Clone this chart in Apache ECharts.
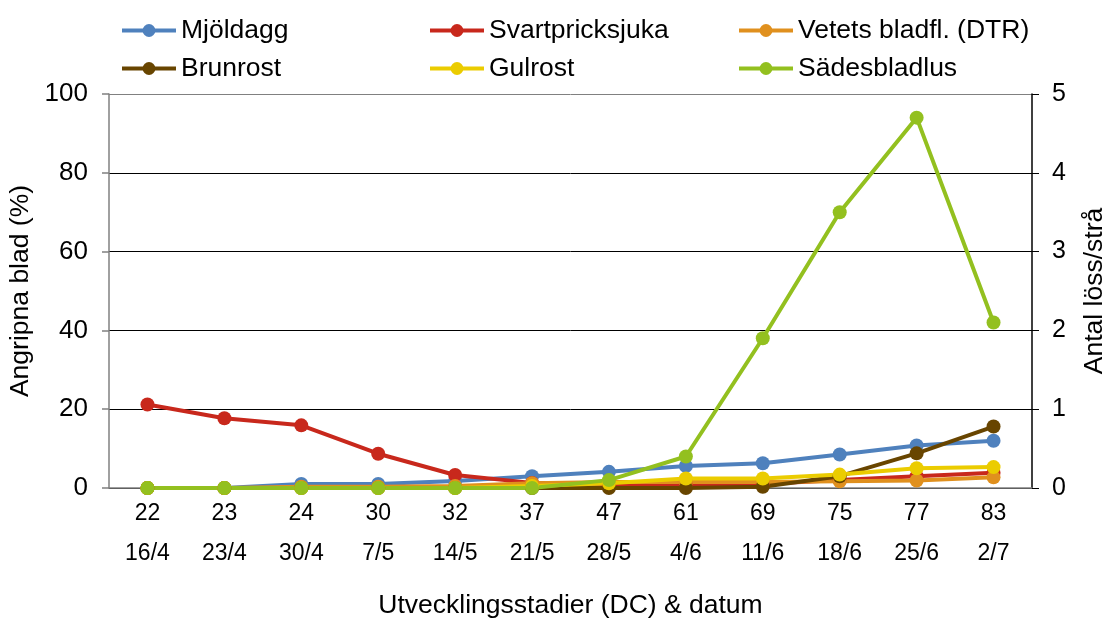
<!DOCTYPE html>
<html>
<head>
<meta charset="utf-8">
<style>
  html, body { margin: 0; padding: 0; background: #fff; }
  #chart { width: 1106px; height: 619px; }
</style>
<script src="https://cdn.jsdelivr.net/npm/echarts@6/dist/echarts.min.js"></script>
</head>
<body>
<div id="chart"></div>
<script>
// Development stage (DC) and date for each observation
const stages = ['22', '23', '24', '30', '32', '37', '47', '61', '69', '75', '77', '83'];
const dates = ['16/4', '23/4', '30/4', '7/5', '14/5', '21/5', '28/5', '4/6', '11/6', '18/6', '25/6', '2/7'];

// Share of infected leaves (%), left axis
const mjoldagg = [0, 0, 1, 1, 1.8, 3, 4.1, 5.6, 6.3, 8.5, 10.8, 12];
const svartpricksjuka = [21.2, 17.7, 15.9, 8.7, 3.3, 1.3, 1, 1, 1, 2, 3, 3.9];
const vetetsBladfl = [0, 0, 0.3, 0.3, 0.5, 1.2, 1.5, 1.5, 1.5, 1.7, 1.9, 2.7];
const brunrost = [0, 0, 0, 0, 0, 0, 0, 0, 0.3, 3, 8.8, 15.6];
const gulrost = [0, 0, 0, 0, 0, 0.5, 1.2, 2.4, 2.4, 3.4, 5, 5.3];

// Aphids per stem, right axis
const sadesbladlus = [0, 0, 0, 0, 0, 0, 0.1, 0.4, 1.9, 3.5, 4.7, 2.1];

// Axis ticks
const leftTicks = { min: 0, max: 100, interval: 20 };
const rightTicks = { min: 0, max: 5, interval: 1 };

const FONT = '"Liberation Sans", Arial, sans-serif';
const categories = stages.map((s, i) => s + '\n' + dates[i]);

const seriesDefs = [
  { name: 'Mjöldagg', data: mjoldagg, color: '#4F81BD', axis: 0 },
  { name: 'Svartpricksjuka', data: svartpricksjuka, color: '#C8281C', axis: 0 },
  { name: 'Vetets bladfl. (DTR)', data: vetetsBladfl, color: '#E0901E', axis: 0 },
  { name: 'Brunrost', data: brunrost, color: '#684500', axis: 0 },
  { name: 'Gulrost', data: gulrost, color: '#EBCC00', axis: 0 },
  { name: 'Sädesbladlus', data: sadesbladlus, color: '#93C01F', axis: 1 }
];

// Legend laid out as a 3 x 2 table
const legendSlots = [
  { left: 120, top: 17 }, { left: 428, top: 17 }, { left: 737, top: 17 },
  { left: 120, top: 55 }, { left: 428, top: 55 }, { left: 737, top: 55 }
];

const chart = echarts.init(document.getElementById('chart'), null, { renderer: 'canvas' });

chart.setOption({
  animation: false,
  textStyle: { fontFamily: FONT, color: '#000' },
  legend: seriesDefs.map((s, i) => ({
    data: [s.name],
    left: legendSlots[i].left,
    top: legendSlots[i].top,
    itemWidth: 54,
    itemHeight: 16,
    itemGap: 5,
    padding: 0,
    lineStyle: { width: 4 },
    textStyle: { fontFamily: FONT, fontSize: 26.5, color: '#000' }
  })),
  grid: {
    left: 109, right: 74, top: 94, bottom: 131,
    containLabel: false,
    outerBoundsMode: 'none'
  },
  xAxis: {
    type: 'category',
    data: categories,
    boundaryGap: true,
    axisLine: { lineStyle: { color: '#808080', width: 1.5 } },
    axisTick: { show: false },
    axisLabel: {
      interval: 0,
      margin: 6,
      fontFamily: FONT,
      fontSize: 23,
      lineHeight: 40,
      color: '#000'
    },
    name: 'Utvecklingsstadier (DC) & datum',
    nameLocation: 'middle',
    nameGap: 104,
    nameTextStyle: { fontFamily: FONT, fontSize: 26.5, color: '#000' }
  },
  yAxis: [
    {
      type: 'value',
      min: leftTicks.min,
      max: leftTicks.max,
      interval: leftTicks.interval,
      axisLine: { show: true, lineStyle: { color: '#808080', width: 1.5 } },
      axisTick: { show: true, length: 7, lineStyle: { color: '#808080', width: 1.5 } },
      axisLabel: { margin: 21, fontFamily: FONT, fontSize: 26, color: '#000' },
      splitLine: {
        show: true,
        lineStyle: { color: ['#000', '#000', '#000', '#000', '#000', '#808080'], width: 1 }
      },
      name: 'Angripna blad (%)',
      nameLocation: 'middle',
      nameRotate: 90,
      nameGap: 63,
      nameTextStyle: { fontFamily: FONT, fontSize: 26.5, color: '#000' }
    },
    {
      type: 'value',
      position: 'right',
      min: rightTicks.min,
      max: rightTicks.max,
      interval: rightTicks.interval,
      axisLine: { show: true, lineStyle: { color: '#000', width: 1.5 } },
      axisTick: { show: true, length: 7, lineStyle: { color: '#000', width: 1 } },
      axisLabel: { margin: 20, fontFamily: FONT, fontSize: 25, color: '#000' },
      splitLine: { show: false },
      name: 'Antal löss/strå',
      nameLocation: 'middle',
      nameRotate: 90,
      nameGap: 49,
      nameTextStyle: { fontFamily: FONT, fontSize: 26.5, color: '#000' }
    }
  ],
  series: seriesDefs.map((s) => ({
    name: s.name,
    type: 'line',
    yAxisIndex: s.axis,
    data: s.data,
    symbol: 'circle',
    symbolSize: 14,
    showSymbol: true,
    color: s.color,
    lineStyle: { color: s.color, width: 4 },
    itemStyle: { color: s.color },
    emphasis: { disabled: true }
  }))
});
</script>
</body>
</html>
